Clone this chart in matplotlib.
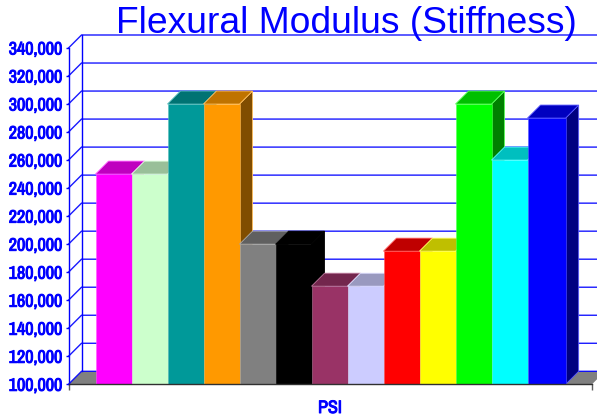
import matplotlib
matplotlib.use("Agg")
import matplotlib.pyplot as plt
import matplotlib.patheffects as pe
from matplotlib.patches import Polygon
from matplotlib.colors import to_rgb
from matplotlib import font_manager as fm

values = [250000, 250000, 300000, 300000, 200000, 200000, 170000, 170000,
          195000, 195000, 300000, 260000, 290000]
colors = ["#FF00FF", "#CCFFCC", "#009999", "#FF9900", "#808080", "#000000", "#993366",
          "#CCCCFF", "#FF0000", "#FFFF00", "#00FF00", "#00FFFF", "#0000FF"]
yticks = list(range(100000, 340001, 20000))
title = "Flexural Modulus (Stiffness)"
xlabel = "PSI"

W, H = 597, 420
names = {f.name for f in fm.fontManager.ttflist}
narrow = next((n for n in ["Liberation Sans Narrow", "Arimo Narrow", "Archivo Narrow", "PT Sans Narrow",
                           "Pragati Narrow", "Roboto Condensed", "Liberation Sans"] if n in names))

fig = plt.figure(figsize=(W/100, H/100), dpi=100)
L, R, B, T = 68.5, 592.0, 384.3, 48.0
ax = fig.add_axes([L/W, 1-B/H, (R-L)/W, (B-T)/H])
pxbar = 36.0
x0 = 95.5
ax.set_xlim(-0.5-(x0-L)/pxbar, -0.5+(R-x0)/pxbar)
ax.set_ylim(100000, 340000)
pxval = (B-T)/240000
D = 13.0
dx, dy = D/pxbar, D/pxval
xl, xr = ax.get_xlim()
ybase = 100000
blue = "#0000FF"
for s in ax.spines.values():
    s.set_visible(False)
ax.patch.set_visible(False)

ax.add_patch(Polygon([(xl, ybase), (xl+dx, ybase+dy), (xr+dx, ybase+dy), (xr, ybase)],
                     fc="#808080", ec="none", clip_on=False, zorder=1))
for y in yticks:
    ax.plot([xl, xl+dx, xr+dx], [y, y+dy, y+dy], color=blue, lw=1.0, alpha=0.9,
            clip_on=False, zorder=2, solid_joinstyle="miter")
ax.plot([xl, xl], [ybase, yticks[-1]], color=blue, lw=1.0, clip_on=False, zorder=2)
ax.plot([xl+dx, xl+dx], [ybase+dy, yticks[-1]+dy], color=blue, lw=1.0, clip_on=False, zorder=2)

def shade(c, f):
    return tuple(v*f for v in to_rgb(c))
def lighter(c, f=0.35):
    return tuple(v+(1-v)*f for v in to_rgb(c))

z = 3
n = len(values)
for i, (v, c) in enumerate(zip(values, colors)):
    wid = 1.06 if i == n-1 else 1.0
    l, r = i-0.5, i-0.5+wid
    edge = "#000000" if c == "#000000" else lighter(c)
    ax.add_patch(Polygon([(r, ybase), (r+dx, ybase+dy), (r+dx, v+dy), (r, v)],
                         fc=shade(c, 0.5), ec=edge, lw=0.6, clip_on=False, zorder=z))
    ax.add_patch(Polygon([(l, v), (l+dx, v+dy), (r+dx, v+dy), (r, v)],
                         fc=shade(c, 0.75), ec=edge, lw=0.6, clip_on=False, zorder=z))
    ax.bar(l, v-ybase, bottom=ybase, width=wid, align="edge", color=c, edgecolor=edge,
           linewidth=0.4, zorder=z+0.5, clip_on=False)
    z += 1

ax.plot([xl, xr], [ybase, ybase], color="#303030", lw=1.0, clip_on=False, zorder=50)

bold = [pe.withStroke(linewidth=0.7, foreground=blue)]
ax.set_yticks(yticks)
labels = ax.set_yticklabels([f"{y:,}" for y in yticks], family=narrow, fontweight="bold",
                            fontsize=13, color=blue)
for t in labels:
    t.set_path_effects(bold)
ax.tick_params(axis="y", length=2, width=1, color=blue, pad=2.5)
ax.set_xticks([xl, xr])
ax.set_xticklabels([])
ax.tick_params(axis="x", length=4, width=1, color="#606060")

fig.text(346/W, 1-33/H, title, family="Liberation Sans", fontsize=26.8, color=blue,
         ha="center", va="baseline")
fig.text(330/W, 1-413/H, xlabel, family=narrow, fontweight="bold", fontsize=13,
         color=blue, ha="center", va="baseline", path_effects=bold)

fig.savefig("out.png", dpi=100)
